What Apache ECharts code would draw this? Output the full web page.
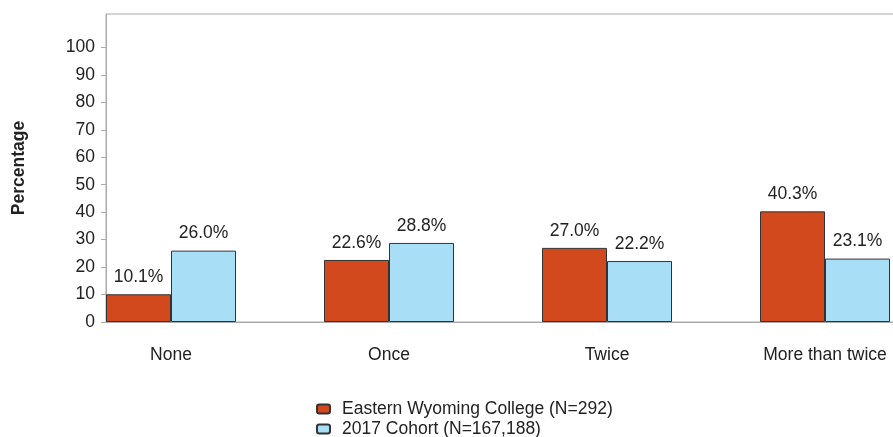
<!DOCTYPE html>
<html>
<head>
<meta charset="utf-8">
<script src="https://cdn.jsdelivr.net/npm/echarts@6/dist/echarts.min.js"></script>
<style>html,body{margin:0;padding:0;background:#fff}#c{width:893px;height:437px}</style>
</head>
<body>
<div id="c"></div>
<script>
const categories = ['None', 'Once', 'Twice', 'More than twice'];
const collegeName = 'Eastern Wyoming College (N=292)';
const cohortName = '2017 Cohort (N=167,188)';
const collegeValues = [10.1, 22.6, 27.0, 40.3];
const cohortValues = [26.0, 28.8, 22.2, 23.1];
const yTicks = [0, 10, 20, 30, 40, 50, 60, 70, 80, 90, 100];

const font = '"Liberation Sans", Arial, sans-serif';
const fs = 17.5;
const chart = echarts.init(document.getElementById('c'));
const labelCfg = {
  show: true, position: 'top', distance: 8,
  formatter: p => p.value.toFixed(1) + '%',
  fontFamily: font, fontSize: fs, color: '#222'
};
chart.setOption({
  animation: false,
  grid: { left: 106, width: 872, top: 14, bottom: 115, outerBoundsMode: 'none', containLabel: false,
          show: true, borderColor: '#aaa', borderWidth: 1 },
  legend: {
    orient: 'vertical', left: 311, top: 395, height: 60,
    data: [collegeName, cohortName],
    itemWidth: 13, itemHeight: 9, itemGap: 2,
    textStyle: { fontFamily: font, fontSize: fs, color: '#222', padding: [0, 0, 0, 7] }
  },
  xAxis: {
    type: 'category', data: categories,
    axisLine: { lineStyle: { color: '#aaa' } },
    axisTick: { show: false },
    axisLabel: { fontFamily: font, fontSize: fs, color: '#222', margin: 24, padding: [0, 88, 0, 0] }
  },
  yAxis: {
    type: 'value', min: 0, max: 112.2, interval: 10,
    name: 'Percentage', nameLocation: 'middle', nameGap: 78,
    nameTextStyle: { fontFamily: font, fontSize: fs, fontWeight: 'bold', color: '#222' },
    axisLine: { show: true, lineStyle: { color: '#aaa' } },
    axisTick: { show: true, length: 5, lineStyle: { color: '#aaa' }, customValues: yTicks },
    axisLabel: { fontFamily: font, fontSize: fs, color: '#222', margin: 11, customValues: yTicks },
    splitLine: { show: false }
  },
  series: [
    {
      name: collegeName, type: 'bar', data: collegeValues, barWidth: 65, barGap: 0, barCategoryGap: 0,
      itemStyle: { color: '#D2491D', borderColor: '#333', borderWidth: 1 },
      label: labelCfg
    },
    {
      name: cohortName, type: 'bar', data: cohortValues, barWidth: 65, barGap: 0,
      itemStyle: { color: '#A9DEF7', borderColor: '#333', borderWidth: 1 },
      label: labelCfg
    },
    {
      name: 'spacer', type: 'bar', data: [null, null, null, null], barWidth: 88, barGap: 0,
      itemStyle: { color: 'transparent' }, silent: true
    }
  ]
});
</script>
</body>
</html>
